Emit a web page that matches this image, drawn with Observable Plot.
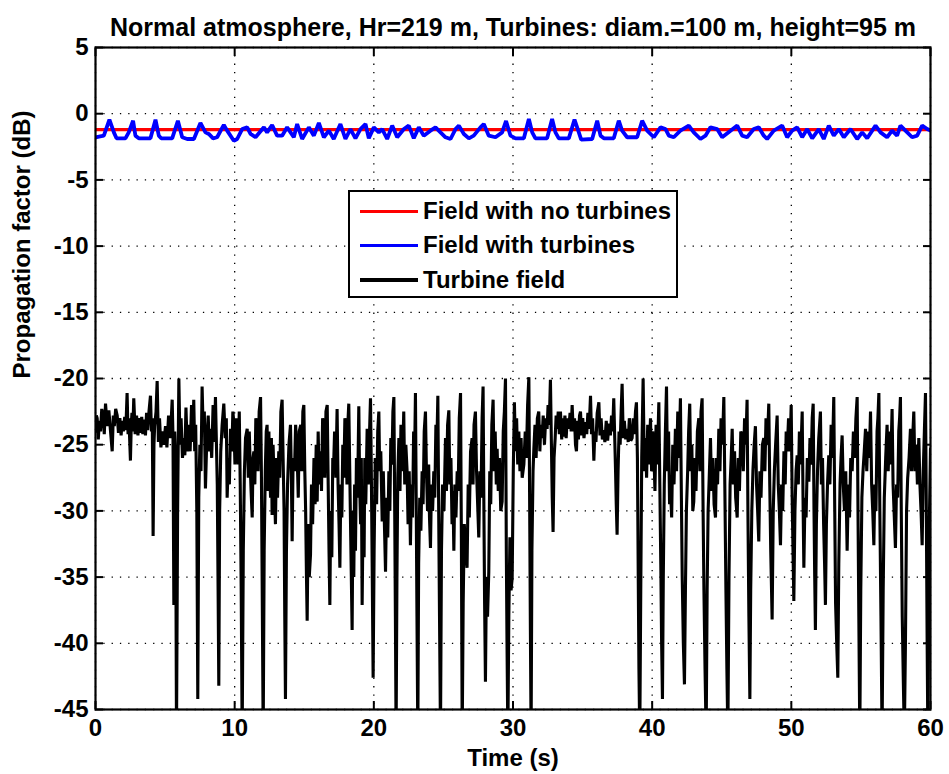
<!DOCTYPE html>
<html><head><meta charset="utf-8">
<script src="https://cdn.jsdelivr.net/npm/d3@7"></script>
<script src="https://cdn.jsdelivr.net/npm/@observablehq/plot@0.6"></script>
<style>
body{margin:0;background:#fff;}
#wrap{position:relative;width:949px;height:774px;font-family:"Liberation Sans",Arial,sans-serif;font-weight:bold;}
#legend{position:absolute;left:348px;top:190px;width:330px;height:108px;border:2px solid #000;background:#fff;box-sizing:border-box;}
.row{position:absolute;left:10px;height:30px;display:flex;align-items:center;font-size:24px;color:#000;white-space:nowrap;}
.sw{width:58px;margin-right:5px;}
</style></head>
<body><div id="wrap"></div>
<script>
const titleText = "Normal atmosphere, Hr=219 m, Turbines: diam.=100 m, height=95 m";
const xLabel = "Time (s)";
const yLabel = "Propagation factor (dB)";
const xTicks = [0, 10, 20, 30, 40, 50, 60];
const yTicks = [5, 0, -5, -10, -15, -20, -25, -30, -35, -40, -45];
const legendLabels = ["Field with no turbines", "Field with turbines", "Turbine field"];
const seriesColors = ["#ff0000", "#0000ff", "#000000"];

// [time (s), propagation factor (dB)]
const noTurbines = [[0, -1.2], [60, -1.2]];

const withTurbines = [
[0,-1.78],[0.6,-1.66],[1.0,-0.45],[1.32,-1.41],[1.51,-1.86],[2.15,-1.86],[2.39,-1.41],[2.7,-0.53],[2.87,-1.66],[3.11,-1.86],[3.95,-1.86],[4.31,-0.45],[4.55,-1.66],[4.72,-1.86],[5.51,-1.86],[5.92,-0.53],[6.23,-1.78],[6.59,-1.91],[7.07,-1.91],[7.54,-0.7],[7.9,-1.41],[8.14,-1.53],[8.45,-1.86],[8.74,-1.78],[9.22,-0.85],[9.46,-1.28],[9.94,-2.04],[10.18,-1.91],[10.54,-1.16],[10.9,-1.03],[11.14,-1.53],[11.5,-1.78],[12.1,-1.03],[12.33,-1.41],[12.69,-0.85],[13.05,-1.66],[13.41,-1.66],[13.77,-1.03],[14.25,-1.78],[14.49,-0.78],[14.85,-1.91],[15.33,-1.03],[15.69,-1.66],[16.05,-0.7],[16.41,-1.78],[16.77,-1.28],[17.12,-1.91],[17.6,-0.78],[17.96,-1.91],[18.32,-1.16],[18.68,-1.86],[19.04,-1.16],[19.4,-0.78],[19.64,-1.86],[20.0,-1.03],[20.36,-1.41],[20.6,-1.16],[20.96,-1.91],[21.32,-0.9],[21.68,-1.78],[22.16,-1.16],[22.51,-0.9],[22.87,-1.86],[23.23,-1.03],[23.59,-1.66],[24.07,-1.28],[24.43,-1.03],[24.79,-1.41],[25.15,-1.78],[25.51,-1.91],[25.87,-1.16],[26.11,-0.9],[26.47,-1.53],[26.83,-1.86],[27.18,-1.66],[27.66,-1.03],[27.9,-0.78],[28.26,-1.66],[28.74,-1.78],[29.22,-1.41],[29.5,-0.55],[29.82,-1.66],[30.18,-1.86],[30.78,-1.86],[31.14,-0.4],[31.38,-1.41],[31.61,-1.86],[32.45,-1.86],[32.81,-0.4],[33.05,-1.41],[33.29,-1.86],[34.01,-1.86],[34.42,-0.45],[34.73,-1.41],[34.9,-1.96],[35.69,-1.91],[36.05,-0.53],[36.29,-1.66],[36.53,-1.86],[37.24,-1.86],[37.6,-0.53],[37.84,-1.28],[38.2,-1.78],[38.92,-1.78],[39.28,-0.53],[39.64,-1.28],[40.12,-1.78],[40.6,-1.03],[40.96,-1.16],[41.2,-1.66],[41.55,-1.78],[42.03,-1.28],[42.63,-0.9],[42.99,-1.41],[43.47,-1.91],[43.83,-1.66],[44.19,-1.03],[44.67,-1.16],[45.03,-1.78],[45.63,-1.28],[46.11,-0.9],[46.47,-1.66],[46.82,-1.78],[47.3,-1.16],[47.66,-1.03],[48.02,-1.66],[48.26,-1.91],[48.74,-1.28],[49.34,-0.9],[49.7,-1.78],[50.06,-1.28],[50.42,-1.03],[50.78,-1.78],[51.14,-1.16],[51.5,-1.86],[51.97,-1.16],[52.33,-1.91],[52.69,-0.9],[53.05,-1.66],[53.41,-1.16],[53.77,-1.78],[54.25,-1.16],[54.73,-1.91],[55.09,-1.41],[55.45,-1.86],[56.05,-0.9],[56.41,-1.41],[56.88,-1.78],[57.24,-1.28],[57.6,-1.66],[57.84,-0.9],[58.2,-1.28],[58.68,-1.78],[59.04,-1.66],[59.4,-0.9],[59.76,-1.16],[60,-1.28]
];

const turbineField = [
[0,-24.0],[0.06,-22.8],[0.12,-23.0],[0.2,-24.6],[0.28,-23.2],[0.36,-24.0],[0.45,-22.3],[0.55,-22.8],[0.63,-24.2],[0.72,-21.9],[0.84,-23.6],[0.96,-22.4],[1.08,-24.0],[1.2,-25.5],[1.28,-22.8],[1.35,-23.6],[1.45,-22.3],[1.56,-22.8],[1.65,-24.1],[1.75,-23.0],[1.84,-24.3],[1.92,-23.2],[2.0,-24.0],[2.1,-22.9],[2.18,-23.9],[2.27,-21.1],[2.34,-24.2],[2.4,-23.0],[2.51,-26.2],[2.57,-23.5],[2.62,-22.6],[2.68,-24.0],[2.75,-21.5],[2.85,-24.2],[2.95,-22.8],[3.05,-24.3],[3.14,-23.0],[3.23,-24.1],[3.32,-22.9],[3.4,-24.2],[3.5,-23.1],[3.59,-24.3],[3.67,-22.6],[3.75,-23.9],[3.85,-22.4],[3.95,-21.3],[4.02,-24.0],[4.08,-23.0],[4.14,-31.9],[4.2,-25.0],[4.25,-23.6],
[4.35,-22.5],[4.43,-20.2],[4.52,-24.8],[4.6,-23.0],[4.7,-25.2],[4.79,-24.0],[4.9,-25.0],[5.03,-23.6],[5.13,-25.2],[5.25,-22.8],[5.38,-24.5],[5.51,-21.6],[5.57,-24.5],[5.63,-37.1],[5.69,-24.0],[5.75,-26.0],[5.82,-47],[5.9,-30.0],[5.99,-20.0],[6.07,-25.0],[6.15,-23.0],[6.25,-26.0],[6.35,-24.5],[6.42,-25.8],[6.5,-22.2],[6.6,-25.5],[6.71,-23.5],[6.8,-25.5],[6.9,-22.0],[6.98,-24.8],[7.06,-21.6],[7.13,-25.5],[7.2,-23.5],[7.28,-30.0],[7.35,-44.2],[7.42,-29.0],[7.5,-25.0],[7.58,-27.0],[7.66,-20.6],[7.74,-24.0],[7.82,-22.5],[7.9,-28.3],[8.0,-24.5],[8.1,-22.8],[8.18,-25.5],[8.26,-23.8],[8.35,-26.0],[8.45,-22.0],[8.54,-24.8],[8.62,-21.4],[8.7,-25.5],[8.75,-28.0],[8.81,-36.0],[8.86,-43.2],[8.92,-30.0],[9.0,-25.5],[9.1,-23.5],[9.22,-21.9],[9.32,-24.5],[9.4,-23.0],[9.46,-29.0],[9.55,-26.0],[9.62,-28.0],[9.7,-23.8],[9.8,-25.5],[9.87,-22.5],[9.94,-23.3],[10.02,-26.5],[10.1,-23.0],[10.18,-24.0],[10.25,-26.5],[10.33,-22.5],[10.4,-28.0],[10.47,-36.0],[10.54,-47],[10.62,-33.0],[10.7,-27.0],
[10.78,-24.5],[10.9,-23.8],[10.98,-27.5],[11.05,-24.0],[11.1,-26.0],[11.18,-28.5],[11.26,-30.5],[11.32,-26.0],[11.38,-25.5],[11.45,-28.0],[11.52,-23.0],[11.6,-24.0],[11.68,-27.0],[11.76,-22.5],[11.86,-21.4],[11.92,-27.0],[11.98,-36.0],[12.05,-47],[12.12,-33.0],[12.2,-27.0],[12.27,-24.0],[12.33,-23.5],[12.4,-28.5],[12.46,-24.0],[12.5,-26.5],[12.58,-29.0],[12.64,-24.5],[12.69,-30.3],[12.76,-25.0],[12.84,-28.0],[12.93,-31.0],[13.0,-26.0],[13.08,-29.0],[13.17,-25.5],[13.24,-27.5],[13.32,-22.5],[13.41,-21.6],[13.48,-26.0],[13.55,-30.0],[13.6,-38.0],[13.65,-44.2],[13.72,-33.0],[13.8,-28.0],[13.9,-25.0],[14.01,-23.5],[14.07,-27.0],[14.13,-32.3],[14.2,-26.0],[14.3,-27.0],[14.38,-23.5],[14.49,-25.8],[14.57,-29.0],[14.64,-24.0],[14.75,-23.5],[14.82,-27.0],[14.9,-22.5],[14.97,-22.0],[15.04,-27.0],[15.1,-30.0],[15.16,-35.0],[15.21,-38.3],[15.28,-31.0],[15.36,-35.0],[15.45,-33.3],[15.52,-28.0],[15.6,-31.0],[15.7,-26.0],[15.78,-29.5],[15.86,-25.0],[15.93,-29.3],[16.0,-24.0],[16.08,-28.0],[16.17,-25.5],[16.24,-28.5],[16.32,-23.0],[16.4,-24.0],[16.48,-27.5],[16.56,-22.5],[16.65,-22.0],[16.72,-28.0],[16.78,-33.0],[16.84,-37.1],[16.9,-30.0],[16.98,-33.5],[17.05,-26.0],[17.1,-27.0],[17.18,-24.0],[17.27,-27.5],[17.36,-22.3],[17.43,-28.0],[17.5,-31.0],[17.56,-34.3],[17.63,-28.0],[17.7,-30.5],[17.77,-25.0],[17.84,-27.5],[17.92,-23.0],[18.0,-24.0],[18.07,-28.0],[18.13,-23.5],[18.2,-21.9],[18.27,-27.0],[18.34,-32.0],[18.44,-39.0],[18.5,-30.0],[18.56,-35.0],[18.62,-28.0],[18.68,-33.0],[18.75,-26.0],[18.83,-29.0],[18.92,-22.1],[18.98,-28.0],[19.05,-31.0],[19.1,-26.0],[19.16,-37.1],[19.23,-30.0],[19.3,-33.5],[19.35,-26.0],[19.42,-29.5],[19.52,-23.8],[19.6,-28.0],[19.68,-24.5],[19.76,-21.5],[19.82,-27.0],[19.88,-34.0],[19.95,-42.6],[20.02,-33.0],[20.1,-26.0],[20.2,-29.5],[20.28,-24.0],
[20.36,-22.5],[20.42,-27.0],[20.5,-25.5],[20.6,-30.8],[20.68,-27.0],[20.76,-31.0],[20.84,-34.6],[20.92,-29.0],[21.0,-32.0],[21.08,-27.0],[21.15,-30.0],[21.22,-24.5],[21.3,-26.5],[21.37,-22.5],[21.44,-21.4],[21.5,-30.0],[21.55,-38.0],[21.6,-47],[21.66,-35.0],[21.72,-27.5],[21.8,-24.5],[21.88,-28.5],[21.95,-23.5],[22.05,-27.0],[22.15,-22.5],[22.22,-28.0],[22.3,-25.0],[22.39,-27.0],[22.46,-31.0],[22.54,-27.0],[22.63,-32.6],[22.7,-28.0],[22.78,-30.5],[22.86,-24.0],[22.93,-26.0],[22.99,-21.1],[23.05,-30.0],[23.1,-38.0],[23.16,-47],[23.22,-34.0],[23.3,-29.0],[23.38,-31.5],[23.47,-27.0],[23.54,-29.5],[23.62,-24.0],[23.71,-22.5],[23.78,-27.0],[23.86,-30.0],[23.94,-26.5],[24.0,-30.5],[24.07,-32.8],[24.14,-28.0],[24.22,-30.0],[24.31,-27.0],[24.38,-29.0],[24.46,-23.5],[24.53,-25.0],[24.6,-21.3],[24.66,-30.0],[24.72,-38.0],[24.79,-47],[24.86,-33.0],[24.94,-28.0],[25.04,-30.0],[25.15,-24.5],[25.22,-28.5],[25.3,-23.5],[25.39,-22.4],[25.46,-28.0],[25.54,-26.0],[25.62,-31.0],[25.68,-28.5],[25.75,-33.0],[25.82,-28.0],[25.9,-30.5],[25.99,-27.0],[26.06,-28.5],[26.14,-23.0],[26.23,-21.1],[26.29,-32.0],[26.35,-47],[26.42,-37.0],[26.5,-31.0],[26.6,-33.0],[26.7,-34.3],[26.78,-28.0],[26.86,-30.5],[26.95,-25.5],[27.06,-24.5],[27.13,-28.0],[27.2,-23.5],[27.3,-22.5],[27.38,-27.0],[27.46,-29.5],[27.54,-32.0],[27.62,-27.0],[27.7,-29.0],[27.78,-23.0],[27.85,-20.6],[27.91,-30.0],[27.96,-37.0],[28.02,-42.9],[28.09,-35.0],[28.17,-38.0],[28.26,-34.6],[28.33,-27.0],[28.4,-29.5],[28.48,-23.5],[28.57,-21.6],[28.64,-27.0],[28.72,-24.0],[28.8,-28.0],[28.86,-25.3],[28.94,-28.5],[29.03,-26.0],[29.12,-30.0],[29.22,-29.3],[29.3,-24.0],[29.38,-22.5],[29.46,-20.0],[29.52,-33.0],[29.57,-40.0],[29.63,-47],[29.7,-38.0],[29.78,-32.0],[29.86,-36.0],[29.94,-35.1],[30.02,-27.0],
[30.1,-21.8],[30.18,-25.5],[30.26,-23.0],[30.34,-26.5],[30.42,-24.0],[30.5,-27.0],[30.58,-24.5],[30.66,-27.5],[30.78,-26.5],[30.88,-24.0],[30.96,-26.0],[31.05,-22.0],[31.14,-19.9],[31.2,-30.0],[31.25,-39.0],[31.3,-47],[31.36,-33.0],[31.44,-27.0],[31.5,-25.3],[31.58,-23.5],[31.66,-26.0],[31.75,-23.0],[31.85,-22.5],[31.93,-25.5],[32.0,-23.5],[32.09,-24.5],[32.17,-22.8],[32.26,-25.0],[32.35,-23.0],[32.45,-23.8],[32.52,-22.0],[32.6,-23.5],[32.69,-20.1],[32.76,-25.0],[32.82,-29.0],[32.88,-31.6],[32.95,-26.0],[33.03,-24.5],[33.1,-22.8],
[33.17,-23.8],[33.25,-22.5],[33.33,-24.2],[33.41,-22.5],[33.5,-24.6],[33.57,-23.0],[33.65,-24.4],[33.73,-22.8],[33.82,-24.5],[33.9,-23.0],[34.01,-23.8],[34.1,-22.6],[34.18,-24.0],[34.25,-22.0],[34.33,-24.0],[34.42,-23.0],[34.49,-25.0],[34.56,-25.5],[34.63,-23.2],[34.7,-24.6],[34.78,-22.8],[34.85,-22.5],[34.93,-24.3],[35.01,-23.0],[35.1,-24.5],[35.21,-23.3],[35.3,-24.2],[35.38,-22.6],[35.47,-23.8],[35.57,-21.3],[35.64,-24.2],[35.72,-23.0],[35.81,-26.2],[35.88,-24.0],[35.96,-24.8],[36.05,-22.6],[36.17,-21.8],[36.25,-24.3],[36.33,-23.0],[36.42,-24.6],[36.52,-23.9],[36.6,-24.8],[36.7,-23.2],[36.8,-24.7],[36.9,-23.4],[37.0,-24.3],[37.08,-22.8],[37.16,-24.0],[37.24,-21.5],[37.31,-24.5],[37.37,-27.0],[37.42,-29.5],[37.48,-31.8],[37.55,-27.0],[37.62,-24.0],[37.7,-25.0],[37.77,-22.5],[37.84,-20.4],[37.92,-24.5],[38.0,-23.2],[38.1,-24.6],[38.2,-23.8],[38.28,-24.8],[38.36,-23.0],[38.46,-24.7],[38.56,-24.5],[38.64,-23.0],[38.72,-24.2],[38.8,-22.5],[38.87,-21.8],[38.94,-26.0],[39.0,-35.0],[39.05,-42.0],[39.11,-47],[39.18,-36.0],[39.25,-26.0],[39.35,-20.0],
[39.44,-27.0],[39.52,-24.5],[39.6,-27.5],[39.68,-23.5],[39.76,-26.5],[39.88,-23.0],[39.96,-27.0],[40.04,-24.0],[40.12,-25.5],[40.2,-28.5],[40.28,-23.5],[40.36,-26.5],[40.48,-21.8],[40.55,-28.0],[40.62,-34.0],[40.68,-40.0],[40.74,-44.2],[40.8,-35.0],[40.87,-28.0],[40.95,-24.0],[41.03,-20.6],[41.1,-27.0],[41.18,-24.0],[41.25,-29.5],[41.32,-28.3],[41.4,-30.5],[41.48,-25.0],[41.57,-28.0],[41.67,-23.8],[41.75,-27.0],[41.84,-22.5],[41.93,-26.0],[42.03,-21.5],[42.1,-29.0],[42.16,-35.0],[42.24,-40.0],[42.32,-43.1],[42.39,-36.0],[42.46,-30.0],[42.55,-27.0],[42.62,-24.0],[42.7,-21.9],[42.77,-27.0],[42.85,-25.0],[42.92,-30.0],[42.99,-29.3],[43.07,-26.0],[43.15,-28.5],[43.25,-24.0],[43.35,-23.0],[43.43,-27.0],[43.51,-22.5],[43.59,-21.5],[43.66,-30.0],[43.72,-36.0],[43.8,-42.0],[43.88,-47],[43.95,-36.0],[44.02,-30.0],[44.1,-27.5],[44.19,-24.5],[44.27,-28.5],[44.36,-26.0],[44.45,-29.5],[44.55,-30.5],[44.62,-26.0],[44.7,-28.0],[44.79,-23.8],[44.87,-27.0],[44.95,-23.0],[45.05,-25.0],[45.15,-21.4],[45.22,-28.0],[45.3,-36.0],[45.37,-42.0],[45.44,-47],[45.52,-35.0],[45.6,-28.0],[45.68,-26.0],[45.75,-23.8],[45.83,-28.0],[45.92,-25.5],[46.0,-29.0],[46.11,-30.5],[46.19,-26.0],[46.27,-28.5],[46.37,-24.0],[46.47,-24.3],[46.55,-27.0],[46.64,-23.0],[46.73,-25.0],[46.82,-21.6],[46.88,-30.0],[46.95,-38.0],[47.02,-44.2],[47.08,-36.0],[47.16,-30.0],[47.24,-27.0],[47.33,-25.0],[47.42,-23.6],[47.5,-28.0],[47.58,-30.0],[47.66,-32.3],[47.74,-27.0],[47.82,-29.0],[47.92,-25.0],[48.02,-24.5],[48.1,-27.0],[48.18,-23.0],[48.27,-25.0],[48.38,-21.9],[48.45,-28.0],[48.52,-33.0],[48.62,-38.2],[48.7,-30.0],[48.78,-27.0],[48.87,-25.0],[48.98,-22.8],[49.06,-28.0],[49.14,-30.0],[49.22,-32.6],[49.3,-28.0],[49.38,-30.0],[49.47,-25.5],[49.56,-28.0],[49.63,-24.0],[49.7,-25.5],[49.8,-23.0],[49.9,-25.5],[49.99,-22.0],[50.06,-29.0],[50.12,-33.0],[50.18,-36.8],[50.26,-30.0],[50.34,-27.0],[50.42,-25.8],[50.5,-28.0],[50.58,-24.0],[50.66,-26.5],[50.78,-22.5],[50.84,-29.0],[50.9,-34.3],[50.98,-29.0],[51.06,-30.5],[51.15,-26.0],[51.26,-27.8],[51.34,-24.5],[51.42,-26.5],[51.5,-23.0],[51.57,-21.9],[51.63,-30.0],[51.68,-35.0],[51.73,-39.0],[51.8,-31.0],[51.88,-27.0],[51.97,-24.5],[52.09,-22.5],[52.16,-28.0],[52.24,-26.0],[52.32,-31.0],[52.39,-34.0],[52.45,-37.1],[52.52,-31.0],[52.6,-28.0],[52.69,-25.8],[52.77,-28.0],[52.86,-23.5],[52.95,-26.0],[53.05,-21.4],[53.12,-30.0],[53.18,-37.0],[53.26,-40.0],[53.34,-42.6],[53.41,-34.0],[53.5,-28.0],[53.57,-26.0],[53.65,-24.3],[53.73,-28.0],[53.82,-30.0],[53.91,-27.0],[54.01,-33.0],[54.1,-28.0],[54.18,-30.5],[54.27,-26.0],[54.37,-27.0],[54.46,-24.0],[54.55,-26.0],[54.64,-23.0],[54.73,-21.4],[54.79,-30.0],[54.85,-38.0],[54.92,-47],[54.99,-36.0],[55.07,-29.0],[55.15,-27.0],[55.24,-25.5],[55.33,-23.8],[55.42,-27.0],[55.5,-24.0],[55.6,-26.0],[55.69,-22.5],[55.77,-28.0],[55.85,-30.0],[55.93,-32.6],[56.0,-28.0],[56.08,-30.0],[56.16,-24.0],[56.22,-23.0],[56.29,-21.1],[56.36,-30.0],[56.44,-38.0],[56.52,-47],[56.6,-36.0],[56.68,-29.0],[56.78,-26.0],[56.88,-23.5],[56.96,-27.0],[57.05,-24.0],[57.14,-26.5],[57.24,-22.3],[57.31,-28.0],[57.4,-30.5],[57.48,-32.8],[57.56,-28.0],[57.64,-29.0],[57.72,-24.0],[57.78,-23.0],[57.84,-21.4],[57.9,-30.0],[57.97,-38.0],[58.05,-43.0],[58.12,-47],[58.2,-40.0],[58.28,-30.0],[58.36,-27.5],[58.46,-26.0],[58.56,-23.8],[58.64,-27.0],[58.72,-24.5],[58.8,-22.5],[58.88,-27.0],[58.97,-25.0],[59.06,-28.0],[59.16,-24.5],[59.24,-28.0],[59.32,-30.0],[59.4,-32.6],[59.48,-27.0],[59.56,-24.0],[59.64,-21.1],[59.7,-30.0],[59.76,-40.0],[59.81,-47],[59.87,-38.0],[59.93,-30.0],[60.0,-25.3]
];

const toRows = arr => arr.map(([t, db]) => ({t, db}));

const font = "'Liberation Sans', Arial, Helvetica, sans-serif";
const plot = Plot.plot({
  width: 949, height: 774,
  marginLeft: 95, marginRight: 19, marginTop: 47, marginBottom: 65,
  style: {fontFamily: font, fontSize: "24px", fontWeight: "bold", color: "#000", background: "#fff", overflow: "visible"},
  x: {domain: [0, 60]},
  y: {domain: [-45, 5]},
  marks: [
    Plot.gridX(xTicks, {stroke: "#000", strokeOpacity: 1, strokeWidth: 1.3, strokeDasharray: "1.3,7"}),
    Plot.gridY(yTicks, {stroke: "#000", strokeOpacity: 1, strokeWidth: 1.3, strokeDasharray: "1.3,7"}),
    Plot.line(toRows(noTurbines), {x: "t", y: "db", stroke: seriesColors[0], strokeWidth: 3.4, clip: true}),
    Plot.line(toRows(withTurbines), {x: "t", y: "db", stroke: seriesColors[1], strokeWidth: 3.8, clip: true, strokeLinejoin: "miter"}),
    Plot.line(toRows(turbineField), {x: "t", y: "db", stroke: seriesColors[2], strokeWidth: 3.1, clip: true, strokeLinejoin: "miter"}),
    Plot.frame({stroke: "#000", strokeWidth: 2.2}),
    Plot.axisX(xTicks, {tickSize: -8, strokeWidth: 2, tickPadding: 17, tickFormat: d => String(d), label: null}),
    Plot.axisX(xTicks, {anchor: "top", tickSize: -8, strokeWidth: 2, tickFormat: () => "", label: null}),
    Plot.axisY(yTicks, {tickSize: -8, strokeWidth: 2, tickPadding: 15, tickFormat: d => String(d), label: null}),
    Plot.axisY(yTicks, {anchor: "right", tickSize: -8, strokeWidth: 2, tickFormat: () => "", label: null}),
    Plot.text([titleText], {text: d => d, frameAnchor: "top", dy: -29, fontSize: 25}),
    Plot.text([xLabel], {text: d => d, frameAnchor: "bottom", dy: 56}),
    Plot.text([yLabel], {text: d => d, frameAnchor: "left", dx: -73, rotate: -90})
  ]
});
const wrap = document.getElementById("wrap");
wrap.appendChild(plot);

const legend = document.createElement("div");
legend.id = "legend";
const rowTops = [4, 38, 73];
const rowWidths = [3, 3, 3.6];
legendLabels.forEach((lab, i) => {
  const row = document.createElement("div");
  row.className = "row";
  row.style.top = rowTops[i] + "px";
  const sw = document.createElement("div");
  sw.className = "sw";
  sw.style.height = rowWidths[i] + "px";
  sw.style.background = seriesColors[i];
  const tx = document.createElement("span");
  tx.textContent = lab;
  row.appendChild(sw);
  row.appendChild(tx);
  legend.appendChild(row);
});
wrap.appendChild(legend);
</script>
</body></html>
